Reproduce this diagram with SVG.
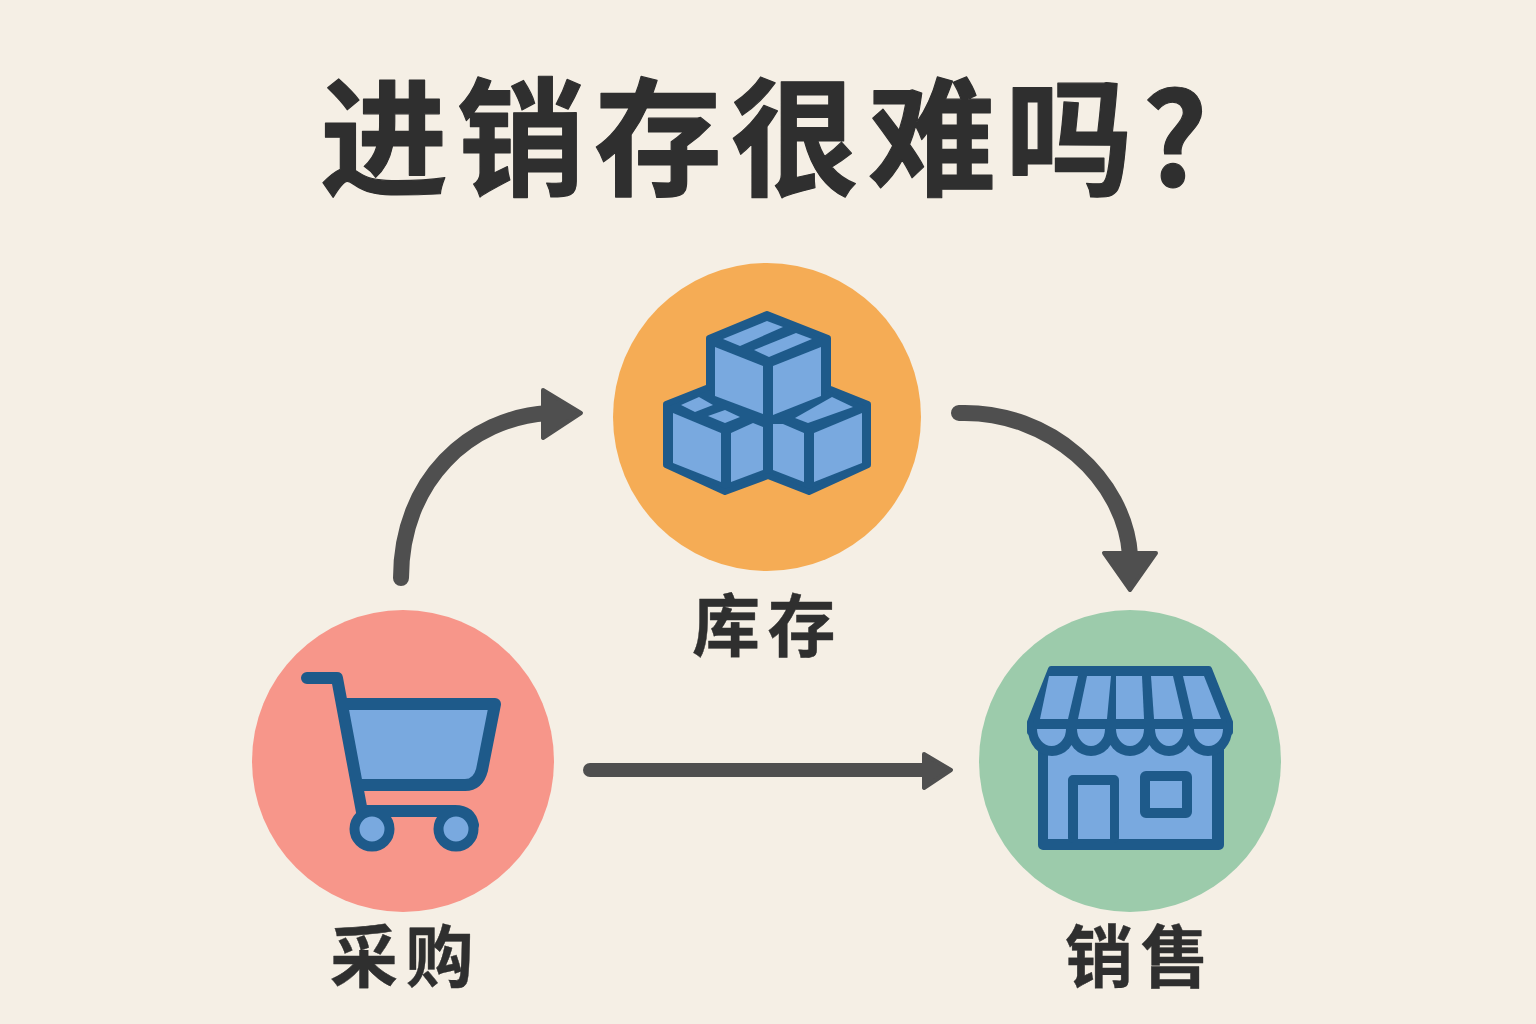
<svg xmlns="http://www.w3.org/2000/svg" width="1536" height="1024" viewBox="0 0 1536 1024">
<style>
text{font-family:"Noto Sans CJK SC","Noto Sans CJK TC",sans-serif;font-weight:700;fill:#2F2F2F;stroke:#2F2F2F;stroke-linejoin:round}
.lbl{font-size:68px;letter-spacing:7.500px;stroke-width:0.400}
.d{fill:#1E5A8A;stroke:#1E5A8A;stroke-linejoin:round;stroke-width:6}
.l{fill:#79A9DF}
.ds{fill:none;stroke:#1E5A8A;stroke-width:12;stroke-linecap:round;stroke-linejoin:round}
.c{fill:none;stroke:#4F4F4F;stroke-linecap:round}
.h{fill:#4F4F4F;stroke:#4F4F4F;stroke-width:4;stroke-linejoin:round}
</style>
<rect width="1536" height="1024" fill="#F5EFE5"/>
<text id="title" x="320" y="186" font-size="128" letter-spacing="9" stroke-width="1.200">进销存很难吗?</text>
<g id="connectors">
<path class="c" stroke-width="16" d="M401,578C401,480 470,418 548,413"/>
<polygon class="h" points="543,390 581,413 543,438"/>
<path class="c" stroke-width="16" d="M959,413C1050,410 1125,480 1130,555"/>
<polygon class="h" points="1104,553 1156,553 1130,590"/>
<path class="c" stroke-width="14" d="M590,770H925"/>
<polygon class="h" points="924,754 951,770 924,788"/>
</g>
<g id="node-inventory">
<circle cx="767" cy="417" r="154" fill="#F5AC55"/>
<polygon class="d" points="767,314 828,338 828,388 868,404 868,465 809,492 768,476 725,492 666,465 666,404 709,387 709,338"/>
<g class="l">
<polygon points="715,347 763,366 763,414 715,396"/>
<polygon points="773,366 821,347 821,396 773,415"/>
<polygon points="723,339 767,321 783,327 740,346"/>
<polygon points="754,350 796,333 812,339 769,357"/>
<polygon points="673,413 721,433 721,482 673,463"/>
<polygon points="731,433 753,423 763,427 763,470 731,482"/>
<polygon points="681,405 699,397 713,405 695,412"/>
<polygon points="708,416 725,410 740,417 725,423"/>
<polygon points="773,424 783,424 804,433 804,482 773,470"/>
<polygon points="814,433 862,413 862,463 814,482"/>
<polygon points="795,418 832,397 853,407 808,423"/>
</g>
<text class="lbl" x="692" y="651">库存</text>
</g>
<g id="node-purchase">
<circle cx="403" cy="761" r="151" fill="#F7968A"/>
<path class="l" d="M345,704H495L482,770Q478,785 465,785H358Z"/>
<path class="ds" d="M307,678H337L362,812M345,704H495L482,770Q478,785 465,785H358M362,811H455Q470,811 473,825"/>
<circle cx="372" cy="829" r="17.500" fill="#79A9DF" stroke="#1E5A8A" stroke-width="10"/>
<circle cx="456" cy="829" r="17.500" fill="#79A9DF" stroke="#1E5A8A" stroke-width="10"/>
<text class="lbl" x="330" y="982">采购</text>
</g>
<g id="node-sales">
<circle cx="1130" cy="761" r="151" fill="#9CCBAB"/>
<rect class="d" x="1041" y="745" width="180" height="102" rx="2"/>
<rect class="l" x="1048" y="745" width="164" height="94"/>
<rect class="d" x="1071" y="778" width="45" height="62" rx="2"/>
<rect class="l" x="1078" y="785" width="32" height="54"/>
<rect class="d" x="1143" y="774" width="46" height="41" rx="3"/>
<rect class="l" x="1150" y="781" width="32" height="27"/>
<g fill="#1E5A8A">
<ellipse cx="1052" cy="730" rx="24" ry="26"/>
<ellipse cx="1091" cy="730" rx="24" ry="26"/>
<ellipse cx="1130" cy="730" rx="24" ry="26"/>
<ellipse cx="1169" cy="730" rx="24" ry="26"/>
<ellipse cx="1208" cy="730" rx="24" ry="26"/>
</g>
<polygon class="d" points="1051,669 1209,669 1230,722 1230,732 1030,732 1030,722"/>
<g class="l">
<polygon points="1049,676 1078,676 1068,719 1040,719"/>
<polygon points="1087,676 1111,676 1107,719 1078,719"/>
<polygon points="1116,676 1142,676 1144,719 1116,719"/>
<polygon points="1151,676 1173,676 1183,719 1154,719"/>
<polygon points="1183,676 1204,676 1221,719 1193,719"/>
<path d="M1037,729H1066A14.500,17 0 0 1 1037,729Z"/>
<path d="M1077,729H1105A14,17 0 0 1 1077,729Z"/>
<path d="M1116,729H1144A14,17 0 0 1 1116,729Z"/>
<path d="M1155,729H1183A14,17 0 0 1 1155,729Z"/>
<path d="M1194,729H1223A14.500,17 0 0 1 1194,729Z"/>
</g>
<text class="lbl" x="1065" y="982">销售</text>
</g>
</svg>
